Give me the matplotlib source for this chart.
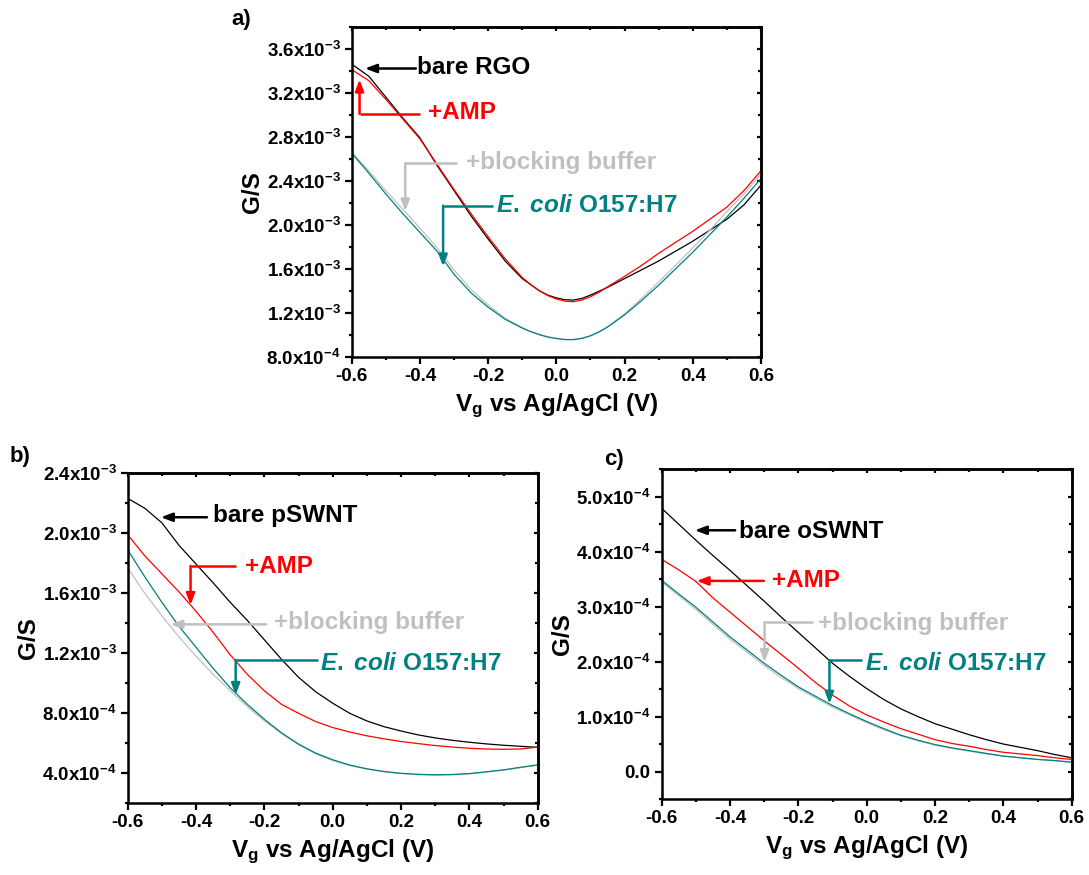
# Three transfer curves G vs Vg (RGO, pSWNT, oSWNT devices)
import matplotlib
matplotlib.use("Agg")
import matplotlib.pyplot as plt
import numpy as np
from matplotlib.ticker import MultipleLocator, FuncFormatter

plt.rcParams['font.family'] = ['Liberation Sans', 'DejaVu Sans']
plt.rcParams['font.weight'] = 'bold'
plt.rcParams['axes.labelweight'] = 'bold'
plt.rcParams['axes.unicode_minus'] = False
plt.rcParams['mathtext.fontset'] = 'custom'
plt.rcParams['mathtext.rm'] = 'Liberation Sans:bold'
plt.rcParams['mathtext.bf'] = 'Liberation Sans:bold'
plt.rcParams['mathtext.it'] = 'Liberation Sans:bold:italic'
plt.rcParams['mathtext.default'] = 'rm'

# gate voltage grid (V) for b) and c)
vg = [-0.60, -0.55, -0.50, -0.45, -0.40, -0.35, -0.30, -0.25, -0.20, -0.15, -0.10, -0.05,
      0.00, 0.05, 0.10, 0.15, 0.20, 0.25, 0.30, 0.35, 0.40, 0.45, 0.50, 0.55, 0.60]
# finer grid around the Dirac point for a)
vg_a = [-0.60, -0.55, -0.50, -0.45, -0.40, -0.35, -0.30, -0.25, -0.20, -0.15, -0.10, -0.075,
        -0.05, -0.025, 0.00, 0.025, 0.05, 0.075, 0.10, 0.125, 0.15, 0.20, 0.25, 0.30, 0.35,
        0.40, 0.45, 0.50, 0.55, 0.60]

# a) RGO, values in 1e-3 S
rgo_bare = [3.46, 3.35, 3.16, 2.97, 2.79, 2.54, 2.31, 2.08, 1.87, 1.67, 1.51, 1.455,
            1.40, 1.36, 1.335, 1.318, 1.315, 1.33, 1.36, 1.395, 1.43, 1.51, 1.59, 1.67, 1.76,
            1.85, 1.95, 2.05, 2.18, 2.36]
rgo_amp = [3.41, 3.31, 3.14, 2.96, 2.78, 2.55, 2.32, 2.10, 1.89, 1.69, 1.52, 1.455,
           1.40, 1.355, 1.325, 1.305, 1.30, 1.315, 1.345, 1.385, 1.435, 1.53, 1.63, 1.74, 1.84,
           1.94, 2.05, 2.16, 2.31, 2.49]
rgo_block = [2.66, 2.49, 2.31, 2.14, 1.97, 1.79, 1.59, 1.41, 1.27, 1.15, 1.065, 1.03,
             1.005, 0.982, 0.968, 0.958, 0.957, 0.968, 0.99, 1.025, 1.07, 1.19, 1.33, 1.48, 1.63,
             1.79, 1.95, 2.12, 2.28, 2.46]
rgo_ecoli = [2.65, 2.47, 2.28, 2.10, 1.93, 1.76, 1.55, 1.38, 1.25, 1.14, 1.06, 1.027,
             1.00, 0.978, 0.965, 0.955, 0.955, 0.966, 0.99, 1.025, 1.07, 1.18, 1.31, 1.45, 1.60,
             1.75, 1.91, 2.07, 2.24, 2.42]

# b) pSWNT, values in 1e-3 S
p_bare = [2.233, 2.167, 2.07, 1.92, 1.795, 1.67, 1.54, 1.42, 1.29, 1.16, 1.04, 0.944,
          0.867, 0.80, 0.749, 0.711, 0.682, 0.656, 0.636, 0.62, 0.607, 0.596, 0.587, 0.58, 0.573]
p_amp = [1.99, 1.85, 1.73, 1.61, 1.48, 1.34, 1.19, 1.06, 0.95, 0.86, 0.80, 0.745,
         0.705, 0.675, 0.65, 0.63, 0.612, 0.598, 0.585, 0.575, 0.567, 0.562, 0.56, 0.562, 0.575]
p_block = [1.77, 1.60, 1.45, 1.31, 1.18, 1.06, 0.95, 0.845, 0.75, 0.665, 0.59, 0.53,
           0.485, 0.452, 0.428, 0.41, 0.398, 0.391, 0.388, 0.39, 0.396, 0.408, 0.421, 0.438, 0.454]
p_ecoli = [1.89, 1.71, 1.54, 1.38, 1.24, 1.10, 0.97, 0.86, 0.76, 0.67, 0.595, 0.535,
           0.49, 0.455, 0.43, 0.412, 0.40, 0.393, 0.39, 0.392, 0.398, 0.41, 0.423, 0.44, 0.456]

# c) oSWNT, values in 1e-4 S
o_bare = [4.79, 4.50, 4.21, 3.93, 3.66, 3.38, 3.10, 2.81, 2.53, 2.25, 1.97, 1.73,
          1.51, 1.31, 1.14, 1.00, 0.87, 0.77, 0.67, 0.58, 0.50, 0.44, 0.38, 0.31, 0.25]
o_amp = [3.86, 3.67, 3.46, 3.16, 2.90, 2.64, 2.38, 2.13, 1.88, 1.62, 1.39, 1.19,
         1.03, 0.90, 0.78, 0.68, 0.58, 0.51, 0.46, 0.40, 0.35, 0.32, 0.29, 0.25, 0.22]
o_block = [3.45, 3.20, 2.95, 2.68, 2.41, 2.17, 1.93, 1.71, 1.51, 1.34, 1.17, 1.03,
           0.89, 0.76, 0.65, 0.56, 0.48, 0.42, 0.37, 0.32, 0.28, 0.25, 0.22, 0.195, 0.17]
o_ecoli = [3.48, 3.23, 2.99, 2.72, 2.45, 2.21, 1.97, 1.75, 1.54, 1.37, 1.20, 1.05,
           0.91, 0.78, 0.66, 0.57, 0.49, 0.43, 0.38, 0.33, 0.28, 0.25, 0.22, 0.20, 0.17]

C_BLACK, C_RED, C_GRAY, C_TEAL = 'black', '#ff0000', '#c0c0c0', '#008080'
ECOLI = r'$\mathit{E.}$ $\mathit{coli}$ O157:H7'

W, H = 1089, 875
fig = plt.figure(figsize=(W / 100, H / 100), dpi=100)


def px_axes(left, top, right, bottom):
    return fig.add_axes([left / W, 1 - bottom / H, (right - left) / W, (bottom - top) / H])


def sci_fmt(v, pos):
    if abs(v) < 1e-12:
        return '0.0'
    e = int(np.floor(np.log10(abs(v)) + 1e-9))
    m = v / 10 ** e
    return '%.1fx10$^{%d}$' % (m, e)


def style(ax, ylim, major, minor):
    ax.set_xlim(-0.6, 0.6)
    ax.set_ylim(*ylim)
    ax.xaxis.set_major_locator(MultipleLocator(0.2))
    ax.xaxis.set_minor_locator(MultipleLocator(0.1))
    ax.yaxis.set_major_locator(MultipleLocator(major))
    ax.yaxis.set_minor_locator(MultipleLocator(minor))
    ax.xaxis.set_major_formatter(FuncFormatter(lambda v, p: '%.1f' % v if abs(v) > 1e-9 else '0.0'))
    ax.yaxis.set_major_formatter(FuncFormatter(sci_fmt))
    for s in ax.spines.values():
        s.set_linewidth(1.8)
    ax.tick_params(which='both', direction='out', width=1.6, labelsize=13.5, pad=3,
                   top=False, right=False)
    ax.tick_params(which='major', length=5)
    ax.tick_params(which='minor', length=2.5)
    sec_x = ax.secondary_xaxis('top')
    sec_y = ax.secondary_yaxis('right')
    for sec in (sec_x, sec_y):
        sec.tick_params(which='both', direction='in', width=1.6, labelsize=0)
        sec.tick_params(which='major', length=3)
        sec.tick_params(which='minor', length=2)
    sec_x.xaxis.set_major_locator(MultipleLocator(0.2))
    sec_x.xaxis.set_minor_locator(MultipleLocator(0.1))
    sec_y.yaxis.set_major_locator(MultipleLocator(major))
    sec_y.yaxis.set_minor_locator(MultipleLocator(minor))
    sec_x.set_xticklabels([])
    sec_y.set_yticklabels([])
    for s in list(sec_x.spines.values()) + list(sec_y.spines.values()):
        s.set_linewidth(1.8)
    ax.set_xlabel(r'V$_\mathrm{g}$ vs Ag/AgCl (V)', fontsize=17.5)
    ax.set_ylabel('G/S', fontsize=17.5)
    ax.xaxis.set_label_coords(0.5, -0.105)
    ax.yaxis.set_label_coords(-0.215, 0.5)


def callout(ax, label, color, txy, path):
    ax.text(txy[0], txy[1], label, color=color, fontsize=17.5, ha='left', va='center')
    for (x0, y0), (x1, y1) in zip(path[:-2], path[1:-1]):
        ax.plot([x0, x1], [y0, y1], color=color, lw=1.8, solid_capstyle='butt')
    ax.annotate('', xy=path[-1], xytext=path[-2],
                arrowprops=dict(arrowstyle='-|>,head_length=0.45,head_width=0.17',
                                mutation_scale=15, color=color, lw=1.8,
                                shrinkA=0, shrinkB=0))


def curves(ax, x, scale, bare, amp, block, ecoli):
    ax.plot(x, np.array(bare) * scale, color=C_BLACK, lw=0.9)
    ax.plot(x, np.array(amp) * scale, color=C_RED, lw=0.9)
    ax.plot(x, np.array(block) * scale, color=C_GRAY, lw=0.9)
    ax.plot(x, np.array(ecoli) * scale, color=C_TEAL, lw=0.9)


# ---- a) RGO
ax_a = px_axes(351.7, 26.7, 761, 356.7)
curves(ax_a, vg_a, 1e-3, rgo_bare, rgo_amp, rgo_block, rgo_ecoli)
style(ax_a, (0.8e-3, 3.8e-3), 0.4e-3, 0.2e-3)
callout(ax_a, 'bare RGO', C_BLACK, (-0.41, 3.427e-3), [(-0.412, 3.42e-3), (-0.561, 3.42e-3)])
callout(ax_a, '+AMP', C_RED, (-0.375, 3.017e-3),
        [(-0.399, 3.008e-3), (-0.577, 3.008e-3), (-0.577, 3.32e-3)])
callout(ax_a, '+blocking buffer', C_GRAY, (-0.264, 2.561e-3),
        [(-0.29, 2.561e-3), (-0.443, 2.561e-3), (-0.443, 2.121e-3)])
callout(ax_a, ECOLI, C_TEAL, (-0.178, 2.173e-3),
        [(-0.185, 2.173e-3), (-0.332, 2.173e-3), (-0.332, 1.62e-3)])

# ---- b) pSWNT
ax_b = px_axes(127.7, 473.3, 537.7, 803.3)
curves(ax_b, vg, 1e-3, p_bare, p_amp, p_block, p_ecoli)
style(ax_b, (0.2e-3, 2.4e-3), 0.4e-3, 0.2e-3)
callout(ax_b, 'bare pSWNT', C_BLACK, (-0.351, 2.116e-3), [(-0.368, 2.107e-3), (-0.503, 2.107e-3)])
callout(ax_b, '+AMP', C_RED, (-0.256, 1.778e-3),
        [(-0.284, 1.782e-3), (-0.416, 1.782e-3), (-0.416, 1.522e-3)])
callout(ax_b, '+blocking buffer', C_GRAY, (-0.172, 1.404e-3), [(-0.195, 1.393e-3), (-0.475, 1.393e-3)])
callout(ax_b, ECOLI, C_TEAL, (-0.038, 1.129e-3),
        [(-0.044, 1.156e-3), (-0.284, 1.156e-3), (-0.284, 0.922e-3)])

# ---- c) oSWNT
ax_c = px_axes(661.7, 469.3, 1071.7, 799)
curves(ax_c, vg, 1e-4, o_bare, o_amp, o_block, o_ecoli)
style(ax_c, (-0.5e-4, 5.5e-4), 1e-4, 0.5e-4)
callout(ax_c, 'bare oSWNT', C_BLACK, (-0.375, 4.362e-4), [(-0.385, 4.39e-4), (-0.503, 4.39e-4)])
callout(ax_c, '+AMP', C_RED, (-0.278, 3.48e-4), [(-0.301, 3.469e-4), (-0.498, 3.469e-4)])
callout(ax_c, '+blocking buffer', C_GRAY, (-0.143, 2.70e-4),
        [(-0.158, 2.72e-4), (-0.299, 2.72e-4), (-0.299, 1.99e-4)])
callout(ax_c, ECOLI, C_TEAL, (-0.005, 1.97e-4),
        [(-0.015, 2.023e-4), (-0.109, 2.023e-4), (-0.109, 1.233e-4)])

# panel letters
for lab, x, y in [('a)', 241, 20), ('b)', 20, 457), ('c)', 614, 459)]:
    fig.text(x / W, 1 - y / H, lab, fontsize=16, ha='center', va='center')

fig.savefig('out.png', dpi=100)
